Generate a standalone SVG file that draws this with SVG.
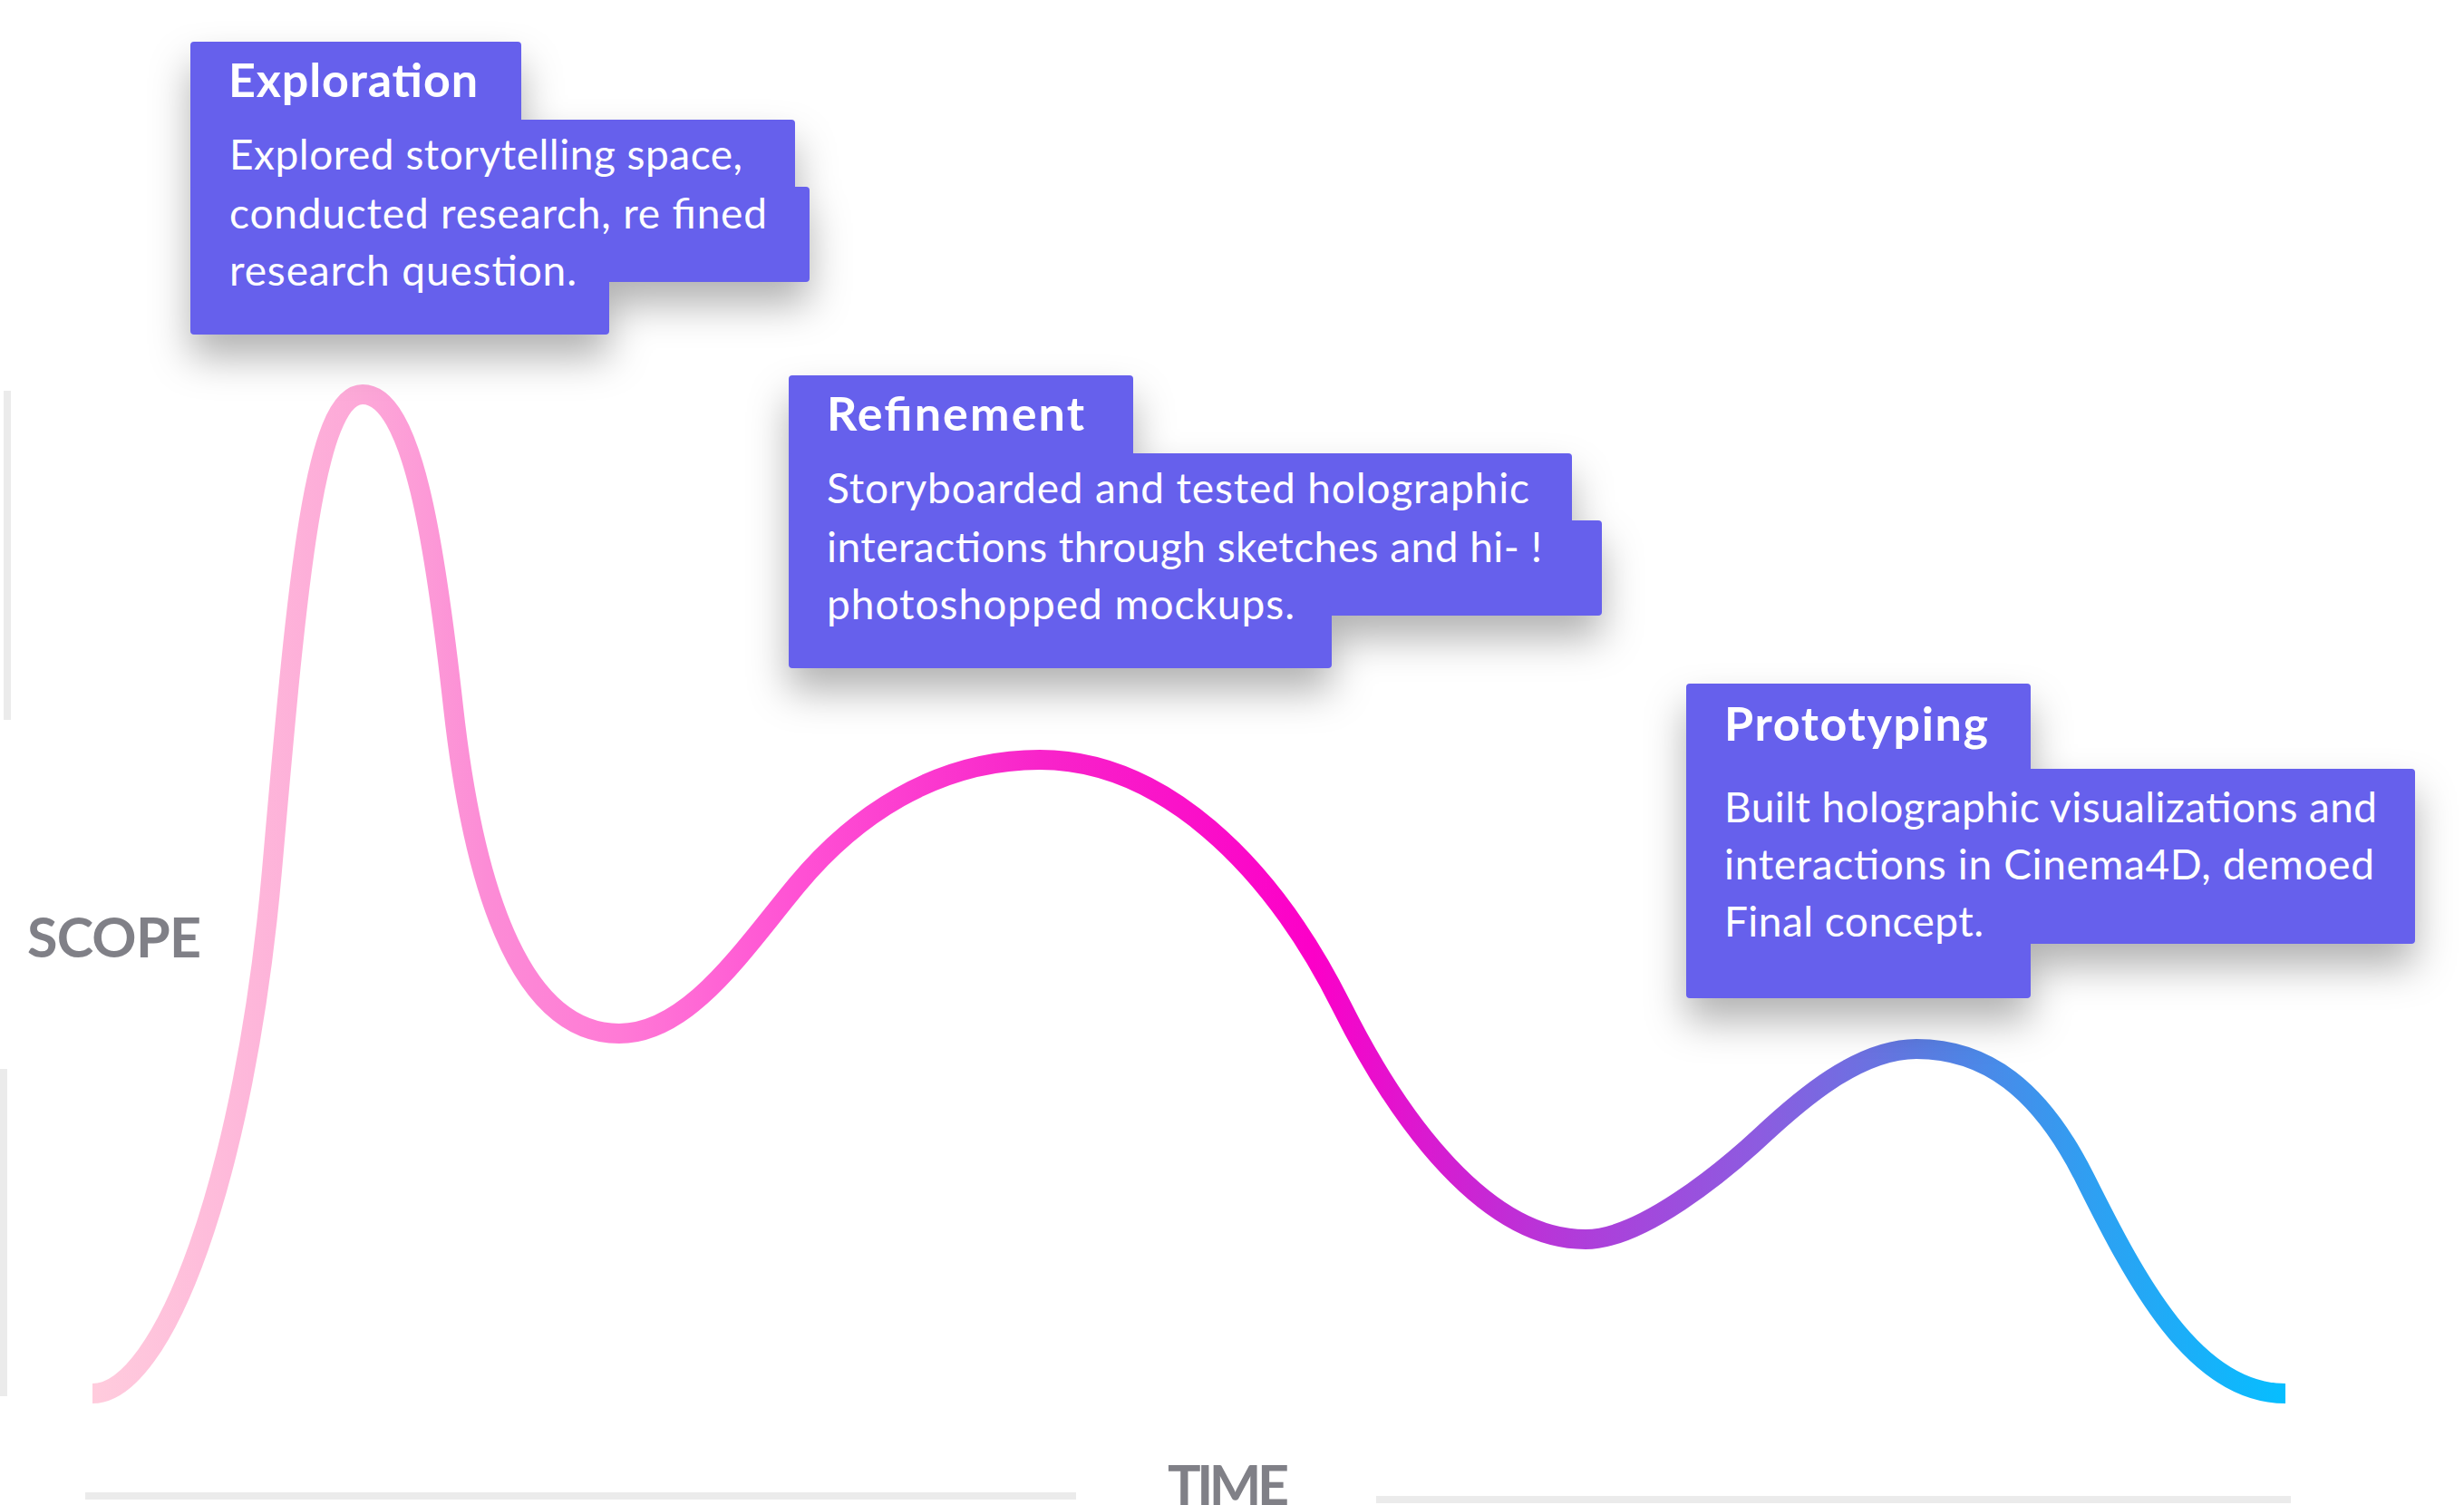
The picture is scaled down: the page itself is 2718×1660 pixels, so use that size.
<svg xmlns="http://www.w3.org/2000/svg" width="2718" height="1660" viewBox="0 0 2718 1660">
<style>
.box{fill:#6661EC}
.title{font-family:Lato,"Open Sans",sans-serif;font-weight:700;font-size:52px;fill:#FFFFFF}
.body{font-family:Lato,"Open Sans",sans-serif;font-weight:400;font-size:46px;fill:#FFFFFF}
.axis{fill:#EBEBEB}
.axislabel{font-family:Lato,"Open Sans",sans-serif;font-weight:700;font-size:61px;fill:#808087}
</style>
<defs>
<linearGradient id="curveGrad" gradientUnits="userSpaceOnUse" x1="102" y1="0" x2="2521" y2="0">
<stop offset="0" stop-color="#FFCCDD"/>
<stop offset="0.123" stop-color="#FDA8D8"/>
<stop offset="0.18" stop-color="#FC8CD6"/>
<stop offset="0.24" stop-color="#FF7AD6"/>
<stop offset="0.324" stop-color="#FF50D4"/>
<stop offset="0.432" stop-color="#F824CA"/>
<stop offset="0.557" stop-color="#FC00C8"/>
<stop offset="0.64" stop-color="#C42AD5"/>
<stop offset="0.681" stop-color="#AE3EDA"/>
<stop offset="0.761" stop-color="#8C5CE0"/>
<stop offset="0.832" stop-color="#5C7BE2"/>
<stop offset="0.913" stop-color="#2EA0F2"/>
<stop offset="1" stop-color="#06BEFF"/>
</linearGradient>
<filter id="shadow" x="-20%" y="-30%" width="140%" height="180%">
<feDropShadow dx="0" dy="25" stdDeviation="22" flood-color="#000000" flood-opacity="0.3"/>
</filter>
</defs>

<g id="axes">
<rect class="axis" x="4" y="431" width="8" height="363"/>
<rect class="axis" x="0" y="1179" width="8" height="361"/>
<rect class="axis" x="94" y="1646" width="1093" height="8"/>
<rect class="axis" x="1518" y="1650" width="1009" height="8"/>
<text class="axislabel" x="30" y="1056" textLength="192">SCOPE</text>
<text class="axislabel" x="1288" y="1660" textLength="134">TIME</text>
</g>

<g id="connectors">
<path id="curve" fill="none" stroke="url(#curveGrad)" stroke-width="22" stroke-linecap="butt"
 d="M102,1537 C180,1537 270,1300 300,960 C327,654 345,435 400,435 C455,435 480,600 500,780 C524,996 580,1140 683,1140 C760,1140 820,1047 880,975 C940,903 1030,838 1147,838 C1280,838 1400,950 1480,1110 C1544,1238 1640,1367 1749,1367 C1810,1367 1900,1293 1943,1253 C1986,1213 2050,1157 2114,1157 C2190,1157 2250,1200 2300,1300 C2355,1410 2420,1537 2521,1537"/>
</g>

<g id="exploration">
<g filter="url(#shadow)">
<rect class="box" x="210" y="46" width="365" height="94" rx="4"/>
<rect class="box" x="210" y="132" width="667" height="82" rx="4"/>
<rect class="box" x="210" y="206" width="683" height="105" rx="4"/>
<rect class="box" x="210" y="300" width="462" height="69" rx="4"/>
</g>
<text class="title" x="252" y="107" textLength="275">Exploration</text>
<text class="body" x="253" y="187" textLength="566">Explored storytelling space,</text>
<text class="body" x="253" y="252" textLength="593">conducted research, re fined</text>
<text class="body" x="253" y="315" textLength="383">research question.</text>
</g>

<g id="refinement">
<g filter="url(#shadow)">
<rect class="box" x="870" y="414" width="380" height="94" rx="4"/>
<rect class="box" x="870" y="500" width="864" height="82" rx="4"/>
<rect class="box" x="870" y="574" width="897" height="105" rx="4"/>
<rect class="box" x="870" y="668" width="599" height="69" rx="4"/>
</g>
<text class="title" x="912" y="475" textLength="284">Refinement</text>
<text class="body" x="912" y="555" textLength="775">Storyboarded and tested holographic</text>
<text class="body" x="912" y="620" textLength="789">interactions through sketches and hi- !</text>
<text class="body" x="912" y="683" textLength="516">photoshopped mockups.</text>
</g>

<g id="prototyping">
<g filter="url(#shadow)">
<rect class="box" x="1860" y="754" width="380" height="102" rx="4"/>
<rect class="box" x="1860" y="848" width="804" height="193" rx="4"/>
<rect class="box" x="1860" y="1030" width="380" height="71" rx="4"/>
</g>
<text class="title" x="1902" y="817" textLength="291">Prototyping</text>
<text class="body" x="1902" y="907" textLength="720">Built holographic visualizations and</text>
<text class="body" x="1902" y="970" textLength="717">interactions in Cinema4D, demoed</text>
<text class="body" x="1902" y="1033" textLength="286">Final concept.</text>
</g>
</svg>
